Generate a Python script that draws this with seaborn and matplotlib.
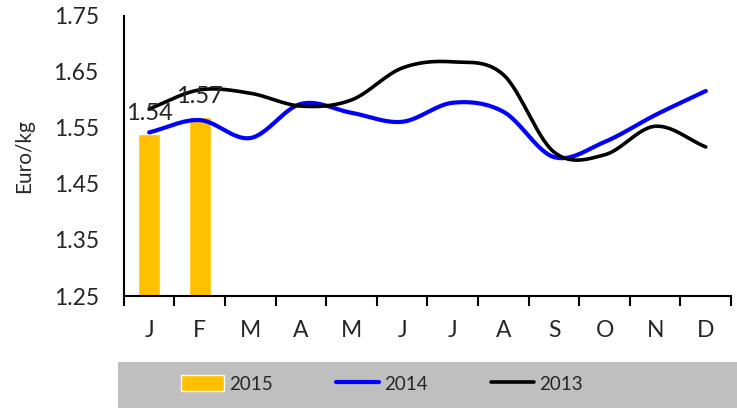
import numpy as np
import pandas as pd
import matplotlib
matplotlib.use('Agg')
import matplotlib.pyplot as plt
from matplotlib.patches import Rectangle
import seaborn as sns

months = ['J', 'F', 'M', 'A', 'M', 'J', 'J', 'A', 'S', 'O', 'N', 'D']
bars_2015 = [1.54, 1.57]
line_2014 = [1.542, 1.564, 1.532, 1.593, 1.577, 1.561, 1.595, 1.579, 1.498, 1.525, 1.573, 1.616]
line_2013 = [1.584, 1.618, 1.612, 1.589, 1.600, 1.657, 1.668, 1.645, 1.507, 1.502, 1.553, 1.516]


def smooth(vals, n=30):
    # cubic hermite through the monthly points (like excel's smoothed line)
    y = np.asarray(vals, dtype=float)
    m = np.gradient(y)
    xs, ys = [], []
    for i in range(len(y) - 1):
        t = np.linspace(0, 1, n, endpoint=False)
        h00 = 2 * t**3 - 3 * t**2 + 1
        h10 = t**3 - 2 * t**2 + t
        h01 = -2 * t**3 + 3 * t**2
        h11 = t**3 - t**2
        xs.extend(i + t)
        ys.extend(h00 * y[i] + h10 * m[i] + h01 * y[i + 1] + h11 * m[i + 1])
    xs.append(len(y) - 1)
    ys.append(y[-1])
    return np.array(xs), np.array(ys)


sns.set_style('white')
plt.rcParams['font.family'] = ['Lato', 'DejaVu Sans']

fig = plt.figure(figsize=(7.37, 4.08), dpi=100)
ax = fig.add_axes([0.168, 0.2745, 0.824, 0.6865])

df15 = pd.DataFrame({'month': months[:2], 'value': bars_2015})
sns.barplot(data=df15, x='month', y='value', color='#FFC000', saturation=1,
            width=0.43, ax=ax, label='2015')

x14, y14 = smooth(line_2014)
x13, y13 = smooth(line_2013)
sns.lineplot(x=x14, y=y14, color='#0000FF', lw=3, ax=ax, label='2014', sort=False)
sns.lineplot(x=x13, y=y13, color='black', lw=2.6, ax=ax, label='2013', sort=False)

for i, v in enumerate(bars_2015):
    ax.annotate(f'{v:.2f}', (i, v), xytext=(0, 7), textcoords='offset points',
                ha='center', va='bottom', fontsize=17)

ax.set_xlim(-0.5, 11.5)
ax.set_ylim(1.25, 1.75)
ax.set_yticks([1.25, 1.35, 1.45, 1.55, 1.65, 1.75])
ax.set_yticklabels(['1.25', '1.35', '1.45', '1.55', '1.65', '1.75'])
ax.set_xticks(range(12))
ax.set_xticklabels(months)
ax.set_xticks(np.arange(-0.5, 12, 1), minor=True)
ax.tick_params(axis='x', which='major', length=0, pad=17, labelsize=16.5)
ax.tick_params(axis='x', which='minor', length=7, width=1.5, color='black', direction='out', bottom=True)
ax.tick_params(axis='y', length=0, pad=18, labelsize=16.5)
ax.set_xlabel('')
ax.set_ylabel('Euro/kg', fontsize=15, labelpad=14)

for s in ['top', 'right']:
    ax.spines[s].set_visible(False)
for s in ['left', 'bottom']:
    ax.spines[s].set_color('black')
    ax.spines[s].set_linewidth(1.5)

handles, labels = ax.get_legend_handles_labels()
ax.get_legend().remove()
fig.add_artist(Rectangle((0.160, 0), 0.84, 0.113, transform=fig.transFigure,
                         facecolor='#BFBFBF', edgecolor='none', zorder=0))
order = [labels.index(l) for l in ['2015', '2014', '2013']]
fig.legend([handles[i] for i in order], ['2015', '2014', '2013'], loc='center',
           bbox_to_anchor=(0.518, 0.059), ncol=3, frameon=False, fontsize=13.5,
           handlelength=2.3, handleheight=0.9, handletextpad=0.25, columnspacing=3.4)

fig.savefig('out.png', dpi=100)
